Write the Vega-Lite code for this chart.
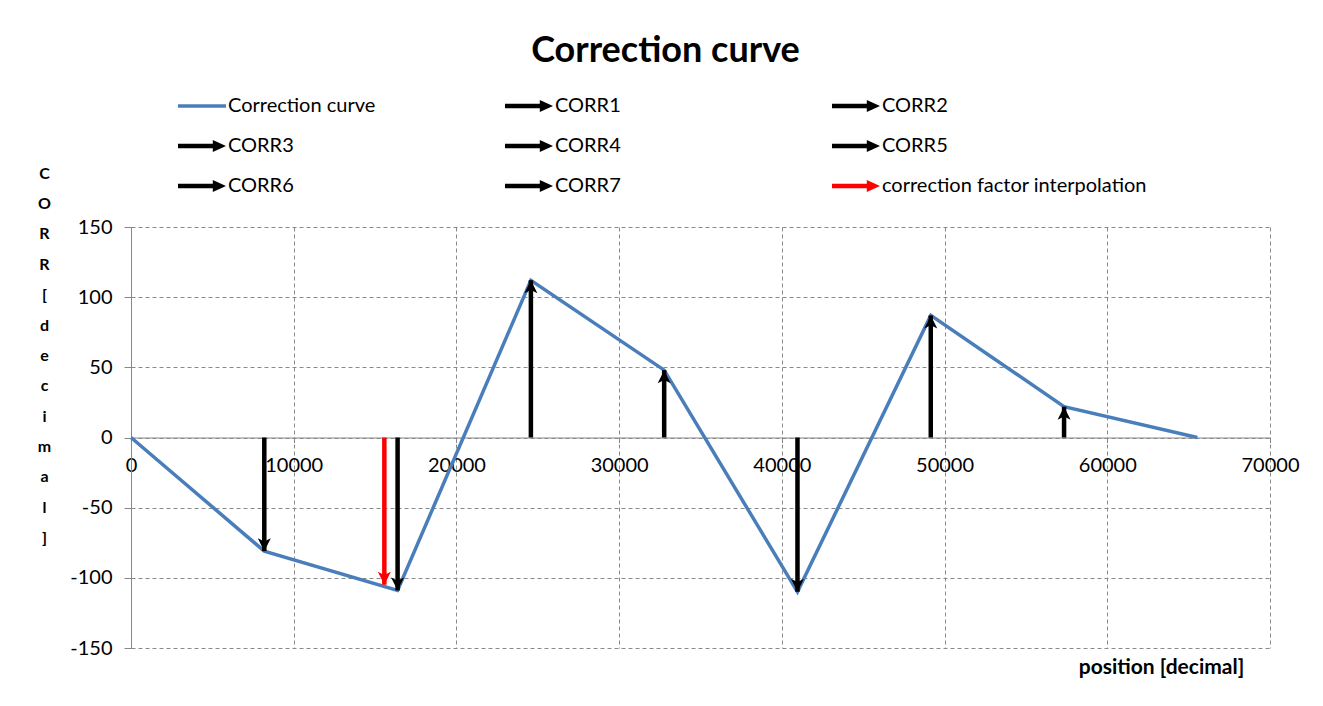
{
  "$schema": "https://vega.github.io/schema/vega-lite/v6.json",
  "width": 1139,
  "height": 421,
  "autosize": {"type": "none"},
  "padding": {"left": 131, "top": 227, "right": 53, "bottom": 58},
  "background": "white",
  "title": {
    "text": "Correction curve",
    "font": "Lato",
    "fontSize": 36,
    "fontWeight": "bold",
    "color": "#000000",
    "anchor": "middle",
    "dx": -35,
    "offset": 12
  },
  "config": {
    "view": {"stroke": null},
    "font": "Lato"
  },
  "datasets": {
    "curve": [
      {"pos": 0, "val": 0, "series": "Correction curve"},
      {"pos": 8192, "val": -81, "series": "Correction curve"},
      {"pos": 16384, "val": -109, "series": "Correction curve"},
      {"pos": 24576, "val": 112, "series": "Correction curve"},
      {"pos": 32768, "val": 48, "series": "Correction curve"},
      {"pos": 40960, "val": -110, "series": "Correction curve"},
      {"pos": 49152, "val": 87, "series": "Correction curve"},
      {"pos": 57344, "val": 22, "series": "Correction curve"},
      {"pos": 65536, "val": 0, "series": "Correction curve"}
    ],
    "arrows": [
      {"pos": 8192, "val": -81, "series": "CORR1"},
      {"pos": 16384, "val": -109, "series": "CORR2"},
      {"pos": 24576, "val": 112, "series": "CORR3"},
      {"pos": 32768, "val": 48, "series": "CORR4"},
      {"pos": 40960, "val": -110, "series": "CORR5"},
      {"pos": 49152, "val": 87, "series": "CORR6"},
      {"pos": 57344, "val": 22, "series": "CORR7"},
      {"pos": 15570, "val": -105, "series": "correction factor interpolation"}
    ]
  },
  "encoding": {
    "x": {
      "field": "pos",
      "type": "quantitative",
      "scale": {"domain": [0, 70000], "nice": false, "zero": false},
      "axis": {
        "values": [0, 10000, 20000, 30000, 40000, 50000, 60000, 70000],
        "format": "d",
        "labelFlush": false,
        "labelOverlap": false,
        "offset": -210.5,
        "grid": true,
        "gridDash": [4, 3],
        "gridColor": "#8a8a8a",
        "gridWidth": 1,
        "domainColor": "#888888",
        "tickColor": "#888888",
        "tickSize": 5,
        "labelPadding": 13,
        "labelFont": "Lato",
        "labelFontSize": 20,
        "labelColor": "#000000",
        "title": "position [decimal]",
        "titleFont": "Lato",
        "titleFontSize": 21,
        "titleFontWeight": "bold",
        "titleColor": "#000000",
        "titleAlign": "center",
        "titleBaseline": "middle",
        "titleX": 1030,
        "titleY": 229.5
      }
    },
    "y": {
      "field": "val",
      "type": "quantitative",
      "scale": {"domain": [-150, 150], "nice": false},
      "axis": {
        "values": [-150, -100, -50, 0, 50, 100, 150],
        "labelExpr": "'' + datum.value",
        "grid": true,
        "gridDash": [4, 3],
        "gridColor": "#8a8a8a",
        "gridWidth": 1,
        "domainColor": "#888888",
        "tickColor": "#888888",
        "tickSize": 7,
        "labelPadding": 12,
        "labelFont": "Lato",
        "labelFontSize": 20,
        "labelColor": "#000000",
        "title": ["C", "O", "R", "R", "[", "d", "e", "c", "i", "m", "a", "l", "]"],
        "titleFont": "Lato",
        "titleFontSize": 16,
        "titleFontWeight": "bold",
        "titleColor": "#000000",
        "titleAngle": 0,
        "titleAlign": "center",
        "titleBaseline": "top",
        "titleLineHeight": 30.4,
        "titleX": -87,
        "titleY": -62
      }
    }
  },
  "layer": [
    {
      "data": {"name": "curve"},
      "mark": {"type": "line", "strokeWidth": 3.5, "strokeJoin": "miter"},
      "encoding": {
        "color": {
          "field": "series",
          "type": "nominal",
          "scale": {
            "domain": ["Correction curve", "CORR1", "CORR2", "CORR3", "CORR4", "CORR5", "CORR6", "CORR7", "correction factor interpolation"],
            "range": ["#4a7ebb", "#000000", "#000000", "#000000", "#000000", "#000000", "#000000", "#000000", "#ff0000"]
          },
          "legend": {
            "orient": "none",
            "legendX": 47,
            "legendY": -145,
            "columns": 3,
            "direction": "horizontal",
            "gridAlign": "all",
            "columnPadding": 12,
            "rowPadding": 6,
            "title": null,
            "labelFont": "Lato",
            "labelFontSize": 20,
            "labelColor": "#000000",
            "labelOffset": 2,
            "labelLimit": 400,
            "symbolSize": 2304,
            "symbolType": "M-1,-0.09L0.45,-0.09L0.45,-0.25L1,0L0.45,0.25L0.45,0.09L-1,0.09Z",
            "encode": {
              "symbols": {
                "update": {
                  "shape": {"signal": "datum.value === 'Correction curve' ? 'M-1,-0.07L1,-0.07L1,0.07L-1,0.07Z' : 'M-1,-0.09L0.45,-0.09L0.45,-0.25L1,0L0.45,0.25L0.45,0.09L-1,0.09Z'"},
                  "fill": {"signal": "scale('color', datum.value)"},
                  "fillOpacity": {"value": 1},
                  "strokeWidth": {"value": 0},
                  "size": {"value": 2304}
                }
              }
            }
          }
        }
      }
    },
    {
      "data": {"name": "arrows"},
      "mark": {"type": "rule", "strokeWidth": 4.5},
      "encoding": {
        "y": {"datum": 0, "type": "quantitative"},
        "y2": {"field": "val"},
        "color": {"field": "series", "type": "nominal"}
      }
    },
    {
      "data": {"name": "arrows"},
      "transform": [{"filter": "datum.val > 0"}],
      "mark": {"type": "point", "filled": true, "opacity": 1, "size": 169, "strokeWidth": 0, "shape": "M0,0L-1,2L0,1.5L1,2Z"},
      "encoding": {
        "color": {"field": "series", "type": "nominal"}
      }
    },
    {
      "data": {"name": "arrows"},
      "transform": [{"filter": "datum.val < 0"}],
      "mark": {"type": "point", "filled": true, "opacity": 1, "size": 169, "strokeWidth": 0, "shape": "M0,0L-1,-2L0,-1.5L1,-2Z"},
      "encoding": {
        "color": {"field": "series", "type": "nominal"}
      }
    }
  ]
}
